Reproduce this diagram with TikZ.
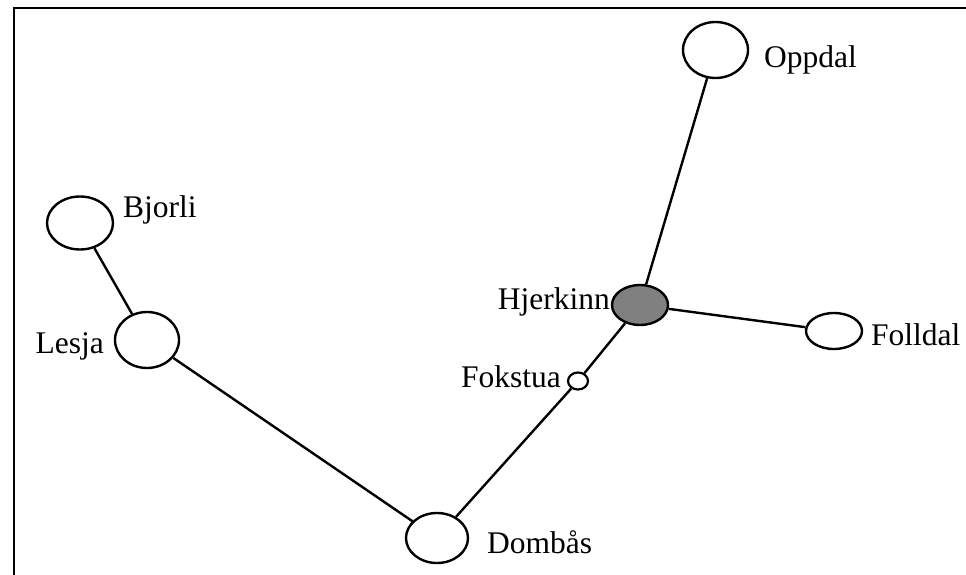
\documentclass[tikz,border=0pt]{standalone}
\usepackage{fontspec}
\setmainfont{Liberation Serif}
\usetikzlibrary{shapes.geometric}
\begin{document}
\begin{tikzpicture}[x=1pt,y=-1pt,
  town/.style={draw=black,line width=2.4pt,ellipse,inner sep=0pt,fill=white},
  lbl/.style={font=\fontsize{31.5}{36}\selectfont,inner sep=0pt},
  road/.style={draw=black,line width=2.4pt}]
\useasboundingbox (0,0) rectangle (966,575);
\clip (0,0) rectangle (966,575);
\draw[line width=2.8pt] (14,600) -- (14,8) -- (990,8);
% towns
\node[town,minimum width=65pt,minimum height=56pt] (oppdal) at (715.5,50) {};
\node[town,minimum width=66pt,minimum height=53pt] (bjorli) at (80,223) {};
\node[town,minimum width=64pt,minimum height=56pt] (lesja) at (147,340) {};
\node[town,minimum width=56pt,minimum height=40pt,fill={rgb,255:red,128;green,128;blue,128}] (hjerkinn) at (640,305) {};
\node[town,minimum width=56pt,minimum height=36pt] (folldal) at (834,331) {};
\node[town,minimum width=20pt,minimum height=17pt,line width=2.2pt] (fokstua) at (578,381) {};
\node[town,minimum width=62pt,minimum height=50pt] (dombas) at (437,538) {};
% roads
\draw[road] (bjorli) -- (lesja);
\draw[road] (lesja) -- (dombas);
\draw[road] (dombas) -- (fokstua);
\draw[road] (fokstua) -- (hjerkinn);
\draw[road] (hjerkinn) -- (oppdal);
\draw[road] (hjerkinn) -- (folldal);
% labels
\node[lbl,anchor=base west] (loppdal) at (764,68) {Oppdal};
\node[lbl,anchor=base west] (lbjorli) at (123,217) {Bjorli};
\node[lbl,anchor=base east] (llesja) at (104,353) {Lesja};
\node[lbl,anchor=base east] (lhjerkinn) at (610,309) {Hjerkinn};
\node[lbl,anchor=base west] (lfolldal) at (871,345) {Folldal};
\node[lbl,anchor=base east] (lfokstua) at (561,387) {Fokstua};
\node[lbl,anchor=base west] (ldombas) at (487,553) {Dombås};
\end{tikzpicture}
\end{document}
